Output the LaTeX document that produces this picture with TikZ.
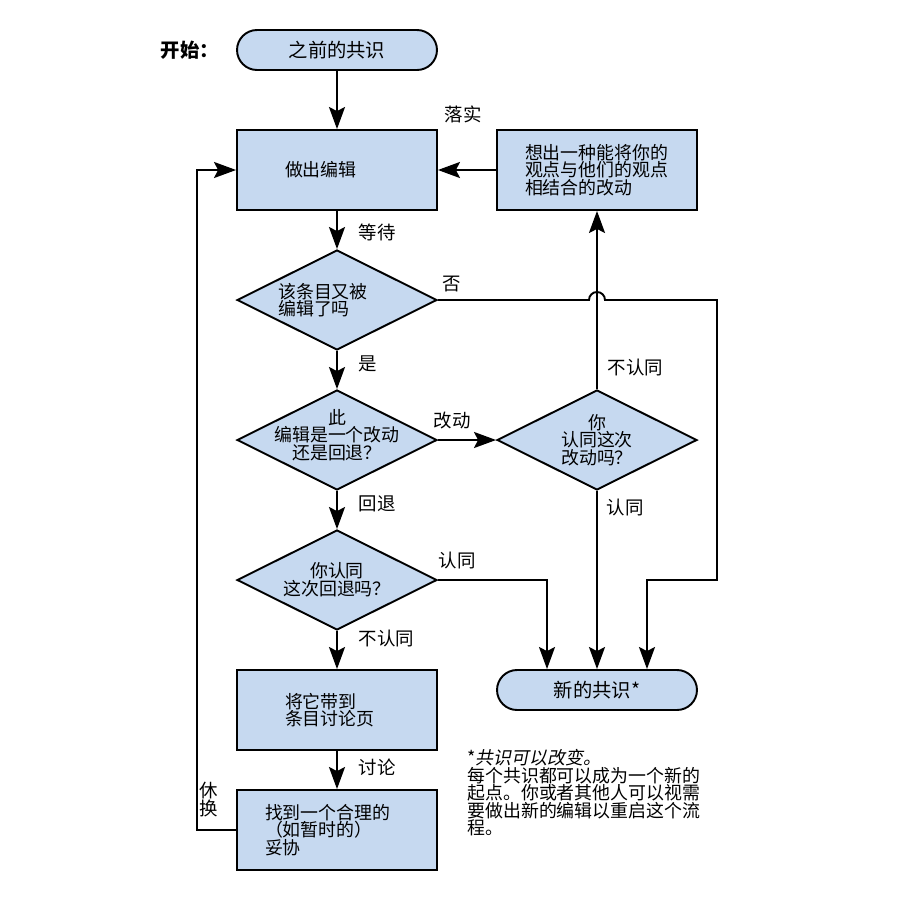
\documentclass[tikz,border=0pt]{standalone}
\usepackage{fontspec}
\setmainfont{Noto Sans CJK SC}[AutoFakeSlant=0.2]
\usepackage{tikz}
\usetikzlibrary{
  arrows.meta,
  shapes.geometric,
  positioning}
\definecolor{boxblue}{RGB}{198,217,240}

\begin{document}
\begin{tikzpicture}[x=0.02cm,y=-0.02cm]
\fill[white] (0,0) rectangle (900,900);
\useasboundingbox (0,0) rectangle (900,900);
\tikzset{
  every node/.style={font=\fontsize{10.2}{10}\selectfont},
  flow/.style={draw, line width=1.1pt},
  arr/.style={flow, -{Stealth[length=4.4mm,width=3.2mm,inset=0.8mm]}},
  terminal/.style={flow, fill=boxblue, rounded corners=0.4cm, minimum width=4cm, minimum height=0.8cm, inner sep=0pt, font=\fontsize{11}{11}\selectfont},
  process/.style={flow, fill=boxblue, minimum width=4cm, minimum height=1.6cm, inner ysep=0pt, align=left},
  decision/.style={flow, fill=boxblue, diamond, minimum width=4cm, minimum height=2cm, inner sep=0pt},
  lbl/.style={inner sep=0pt, font=\fontsize{10.5}{10.5}\selectfont},
}
\node[terminal] (start) at (337,50) {之前的共识};
\node[font=\fontsize{11}{11}\selectfont\bfseries, inner sep=0pt, left=0.34cm of start] (begin) {开始：};
\node[process, text width=2.08cm, inner xsep=0.96cm] (edit) at (337,170) {做出编辑};
\node[process, text width=2.88cm, inner xsep=0.56cm] (idea) at (597,170) {想出一种能将你的\\观点与他们的观点\\相结合的改动};
\node[decision, label={[align=left, xshift=-0.28cm]center:该条目又被\\编辑了吗}] (q1) at (337,300) {};
\node[decision, label={[align=center, yshift=0.1cm]center:此\\编辑是一个改动\\还是回退？}] (q2) at (337,440) {};
\node[decision, label={[align=center]center:你\\认同这次\\改动吗？}] (q3) at (597,440) {};
\node[decision, label={[align=center]center:你认同\\这次回退吗？}] (q4) at (337,580) {};
\node[process, text width=2.08cm, inner xsep=0.96cm] (talk) at (337,710) {将它带到\\条目讨论页};
\node[process, text width=2.88cm, inner xsep=0.56cm] (comp) at (337,830) {找到一个合理的\\（如暂时的）\\妥协};
\node[terminal] (new) at (597,690) {新的共识*};
\node[anchor=north west, align=left, inner sep=0pt] (note) at (467,749) {*\textit{共识可以改变。}\\每个共识都可以成为一个新的\\起点。你或者其他人可以视需\\要做出新的编辑以重启这个流\\程。};

\coordinate (rside) at (717,580);
\coordinate (lside) at (197,830);

\draw[arr] (start) -- (edit);
\draw[arr] (idea) -- node[lbl, xshift=-0.08cm, yshift=1.12cm] (ldo) {落实} (edit);
\draw[arr] (edit) -- node[lbl, anchor=west, xshift=0.42cm, pos=0.57] (lwait) {等待} (q1);
\draw[arr] (q1) -- node[lbl, anchor=west, xshift=0.42cm, pos=0.33] (lyes) {是} (q2);
\draw[arr] (q2) -- node[lbl, anchor=south west, pos=0, xshift=-0.1cm, yshift=0.2cm] (lchg) {改动} (q3);
\draw[arr] (q2) -- node[lbl, anchor=west, xshift=0.42cm, pos=0.33] (lrev) {回退} (q4);
\draw[arr] (q4) -- node[lbl, anchor=west, xshift=0.42cm, pos=0.2] (lno1) {不认同} (talk);
\draw[arr] (talk) -- node[lbl, anchor=west, xshift=0.42cm, pos=0.43] (ldisc) {讨论} (comp);
\draw[arr] (q3) -- node[lbl, anchor=west, xshift=0.2cm, pos=0.12] (lno2) {不认同} (idea);
\draw[arr] (q3) -- node[lbl, anchor=west, xshift=0.18cm, pos=0.094] (lyes2) {认同} (new);
\draw[arr] (q4.east) -| node[lbl, anchor=south west, pos=0, yshift=0.2cm] (lyes3) {认同} ([xshift=-1cm]new.north);
\draw[arr] (q1.east) -- node[lbl, anchor=south west, pos=0, xshift=0.08cm, yshift=0.15cm] (lno3) {否} ([xshift=-0.16cm]q1.east -| idea.south) arc[start angle=180, end angle=0, radius=0.16cm] -- (q1.east -| rside) -- (rside) -| ([xshift=1cm]new.north);
\draw[arr] (comp.west) -- (lside) |- node[lbl, pos=0.023, anchor=west, align=center, xshift=0.04cm] (lswap) {休\\换} (edit.west);
\end{tikzpicture}
\end{document}
